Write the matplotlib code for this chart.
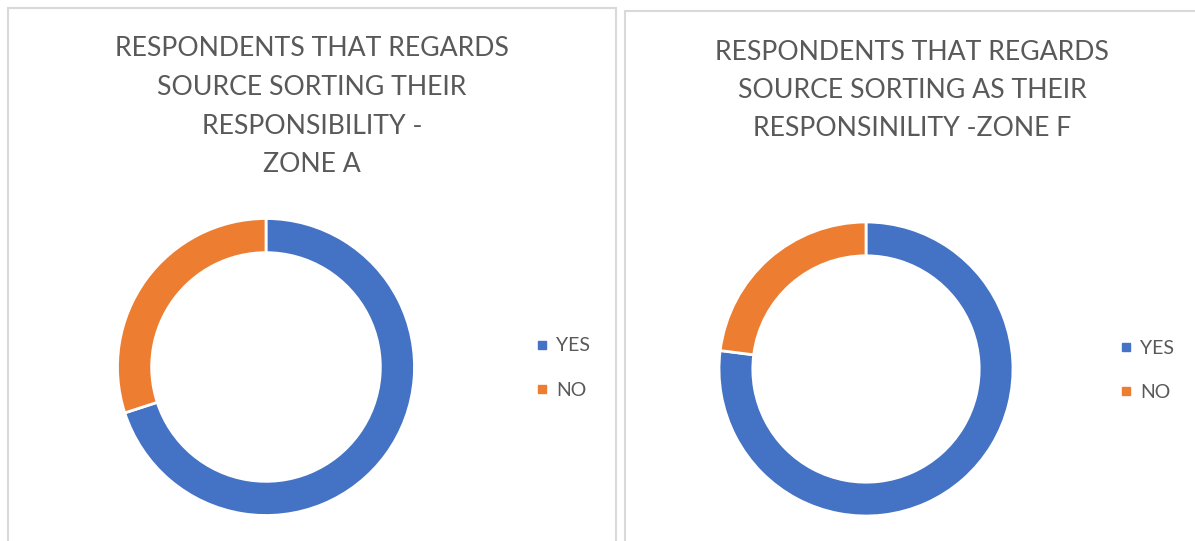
import matplotlib
matplotlib.use("Agg")
import matplotlib.pyplot as plt
from matplotlib.patches import Rectangle
from matplotlib.lines import Line2D

# ---- data ----
categories = ["YES", "NO"]
zone_a_values = [70, 30]
zone_f_values = [77, 23]
title_a_lines = ["RESPONDENTS THAT REGARDS", "SOURCE SORTING THEIR",
                 "RESPONSIBILITY -", "ZONE A"]
title_f_lines = ["RESPONDENTS THAT REGARDS", "SOURCE SORTING AS THEIR",
                 "RESPONSINILITY -ZONE F"]

colors = ["#4472C4", "#ED7D31"]
text_color = "#595959"
border_color = "#D9D9D9"
FONT = "Lato"

W, H = 1195, 541
fig = plt.figure(figsize=(W / 100, H / 100), dpi=100)
fig.patch.set_facecolor("white")


def px_rect(x0, y0, x1, y1):
    """Figure-fraction [left, bottom, width, height] from top-left pixel box."""
    return [x0 / W, 1 - y1 / H, (x1 - x0) / W, (y1 - y0) / H]


# chart-area frames
for (x0, y0, x1, y1) in [(7.5, 7.5, 615.5, 560), (624.5, 11, 1215, 560)]:
    fig.patches.append(Rectangle((x0 / W, 1 - y1 / H), (x1 - x0) / W, (y1 - y0) / H,
                                 transform=fig.transFigure, fill=False,
                                 edgecolor=border_color, linewidth=1.5))


def donut(cx, cy, r, values, title_lines, title_x, title_y0, dy,
          leg_x, leg_y):
    ax = fig.add_axes(px_rect(cx - r, cy - r, cx + r, cy + r))
    ax.pie(values, colors=colors, startangle=90, counterclock=False,
           radius=1.0,
           wedgeprops=dict(width=0.23, edgecolor="white", linewidth=2))
    ax.set_xlim(-1, 1)
    ax.set_ylim(-1, 1)
    ax.set_aspect("equal")
    ax.axis("off")
    for i, line in enumerate(title_lines):
        fig.text(title_x / W, 1 - (title_y0 + i * dy) / H, line,
                 ha="center", va="center", fontsize=19.2, color=text_color,
                 family=FONT)
    handles = [Line2D([], [], linestyle="none", marker="s", markersize=6,
                      markerfacecolor=c, markeredgecolor=c) for c in colors]
    fig.legend(handles, categories, loc="center left",
               bbox_to_anchor=(leg_x / W, 1 - leg_y / H),
               frameon=False, borderpad=0, borderaxespad=0,
               handlelength=0.6, handletextpad=0.45, labelspacing=1.4,
               prop=dict(family=FONT, size=14), labelcolor=text_color)


donut(266, 367, 148.5, zone_a_values, title_a_lines, 312, 49, 38.5, 536, 368)
donut(866, 369, 147, zone_f_values, title_f_lines, 912, 52, 38.5, 1120, 370.5)

fig.savefig("out.png", dpi=100, facecolor="white")
